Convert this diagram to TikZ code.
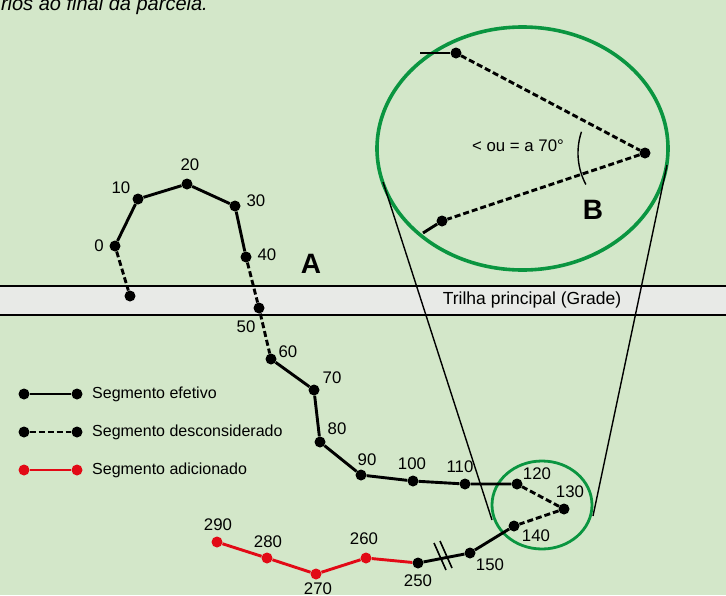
\documentclass[tikz,border=0pt]{standalone}
\usepackage{fontspec}
\setmainfont{Liberation Sans}
\usetikzlibrary{shapes.geometric}
\definecolor{bgc}{HTML}{D3E7C9}
\definecolor{bandc}{HTML}{E8EAE7}
\definecolor{grc}{HTML}{0A9540}
\definecolor{redc}{HTML}{E20A16}
\begin{document}
\begin{tikzpicture}[x=1pt,y=-1pt,
  dot/.style={circle,fill=black,inner sep=0pt,minimum size=11pt},
  rdot/.style={circle,fill=redc,inner sep=0pt,minimum size=11pt},
  seg/.style={line width=2.9pt},
  dseg/.style={line width=2.9pt,dash pattern=on 6pt off 3pt},
  rseg/.style={line width=2.9pt,redc},
  lbl/.style={font=\fontsize{16.8}{17}\selectfont,inner sep=0pt},
  leg/.style={font=\fontsize{16}{17}\selectfont,inner sep=0pt},
  big/.style={font=\fontsize{28}{29}\selectfont\bfseries,inner sep=0pt},
  zoomline/.style={line width=1.4pt}
]
\useasboundingbox (0,0) rectangle (726,595);
\fill[bgc] (0,0) rectangle (726,595);
\begin{scope}
\clip (0,0) rectangle (726,595);
\node[anchor=base east,inner sep=0pt,font=\fontsize{20}{21}\selectfont\itshape] (top) at (208,10) {rios ao final da parcela.};
\end{scope}
% band
\fill[bandc] (0,286) rectangle (726,315);
\draw[line width=2.2pt] (0,286) -- (726,286);
\draw[line width=2.2pt] (0,315) -- (726,315);
\node[font=\fontsize{17.5}{18}\selectfont,inner sep=0pt] (trilha) at (532,300) {Trilha principal (Grade)};
\node[big] (A) at (311,264) {A};
% zoom lines and circles
\node[draw=grc,line width=2.8pt,ellipse,minimum width=100pt,minimum height=88pt,inner sep=0pt] (small) at (542,505) {};
\node[draw=grc,line width=3.6pt,minimum width=291pt,minimum height=243pt,ellipse,inner sep=0pt] (bigc) at (522.5,148.5) {};
\coordinate (t1) at (383,182);
\coordinate (t2) at (492,520);
\coordinate (t3) at (667,165);
\coordinate (t4) at (593,516);
\draw[zoomline] (t1) -- (t2);
\draw[zoomline] (t3) -- (t4);
% points
\node[dot] (p0) at (115,246) {};
\node[dot] (px) at (130,296) {};
\node[dot] (p10) at (138,199) {};
\node[dot] (p20) at (187,184) {};
\node[dot] (p30) at (235,206) {};
\node[dot] (p40) at (246,257) {};
\node[dot] (p50) at (259,308) {};
\node[dot] (p60) at (271,359) {};
\node[dot] (p70) at (314,390) {};
\node[dot] (p80) at (320,442) {};
\node[dot] (p90) at (361,475) {};
\node[dot] (p100) at (413,481) {};
\node[dot] (p110) at (465,484) {};
\node[dot] (p120) at (517,484) {};
\node[dot] (p130) at (564,509) {};
\node[dot] (p140) at (514,526) {};
\node[dot] (p150) at (470,553) {};
\node[dot] (p250) at (418,563) {};
\node[rdot] (p260) at (366,558) {};
\node[rdot] (p270) at (316,574) {};
\node[rdot] (p280) at (267,558) {};
\node[rdot] (p290) at (217,542) {};
% segments
\draw[dseg] (p0) -- (px);
\draw[seg] (p0) -- (p10) -- (p20) -- (p30) -- (p40);
\draw[dseg] (p40) -- (p50) -- (p60);
\draw[seg] (p60) -- (p70) -- (p80) -- (p90) -- (p100) -- (p110) -- (p120);
\draw[dseg] (p120) -- (p130) -- (p140);
\draw[seg] (p140) -- (p150) -- (p250);
\draw[rseg] (p250) -- (p260) -- (p270) -- (p280) -- (p290);
\coordinate (s1a) at (434,543); \coordinate (s1b) at (446,570);
\coordinate (s2a) at (440,541); \coordinate (s2b) at (452,568);
\draw[line width=1.6pt] (s1a) -- (s1b);
\draw[line width=1.6pt] (s2a) -- (s2b);
% labels
\node[lbl] (l0) at (99,246) {0};
\node[lbl] (l10) at (121,188) {10};
\node[lbl] (l20) at (190,165) {20};
\node[lbl] (l30) at (256,201) {30};
\node[lbl] (l40) at (267,255) {40};
\node[lbl] (l50) at (246,327) {50};
\node[lbl] (l60) at (288,352) {60};
\node[lbl] (l70) at (332,378) {70};
\node[lbl] (l80) at (337,429) {80};
\node[lbl] (l90) at (367,460) {90};
\node[lbl] (l100) at (412,464) {100};
\node[lbl] (l110) at (460,467) {110};
\node[lbl] (l120) at (537,474) {120};
\node[lbl] (l130) at (570,492) {130};
\node[lbl] (l140) at (536,536) {140};
\node[lbl] (l150) at (490,565) {150};
\node[lbl] (l250) at (418,581) {250};
\node[lbl] (l260) at (364,539) {260};
\node[lbl] (l270) at (318,589) {270};
\node[lbl] (l280) at (268,542) {280};
\node[lbl] (l290) at (218,525) {290};
% big circle content
\coordinate (b0) at (420,53);
\node[dot] (b1) at (456,53) {};
\node[dot] (b2) at (645,153) {};
\node[dot] (b3) at (442,221) {};
\coordinate (b4) at (423,233);
\draw[seg] (b0) -- (b1);
\draw[dseg] (b1) -- (b2) -- (b3);
\draw[seg] (b3) -- (b4);
\draw[line width=1.4pt] (b2) ++(152:67) arc[start angle=152,end angle=198.5,radius=67];
\node[lbl] (ang) at (518,146) {< ou = a 70°};
\node[big] (B) at (593,210) {B};
% legend
\node[dot] (e1a) at (24,394) {};
\node[dot] (e1b) at (77,394) {};
\draw[seg] (e1a) -- (e1b);
\node[leg,anchor=west] (e1t) at (92,394) {Segmento efetivo};
\node[dot] (e2a) at (24,432) {};
\node[dot] (e2b) at (77,432) {};
\draw[dseg] (e2a) -- (e2b);
\node[leg,anchor=west] (e2t) at (92,432) {Segmento desconsiderado};
\node[rdot] (e3a) at (24,470) {};
\node[rdot] (e3b) at (77,470) {};
\draw[rseg] (e3a) -- (e3b);
\node[leg,anchor=west] (e3t) at (92,470) {Segmento adicionado};
\end{tikzpicture}
\end{document}
